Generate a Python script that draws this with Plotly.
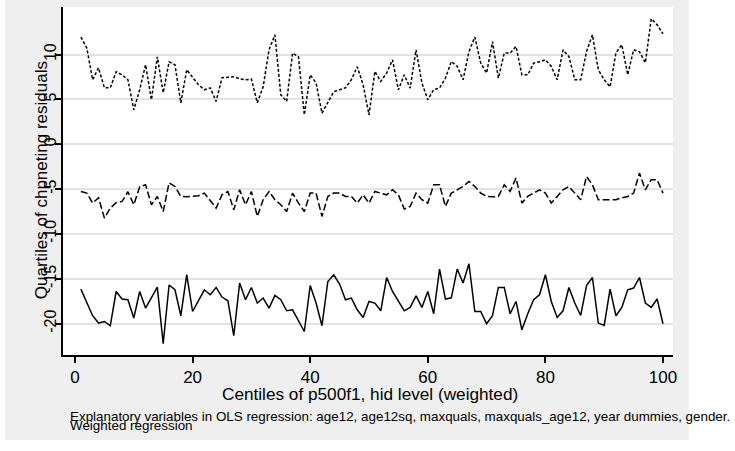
import plotly.graph_objects as go

centiles = list(range(1, 101))

top_quartile = [
    11.95, 10.75, 7.19, 8.52, 6.29, 6.29, 8.08, 7.74, 7.19, 3.84,
    6.07, 8.86, 4.96, 9.75, 5.74, 9.19, 8.86, 4.62, 8.30, 7.41,
    6.63, 6.07, 6.29, 4.77, 7.41, 7.46, 7.52, 7.30, 7.19, 7.26,
    4.62, 6.40, 10.53, 12.20, 5.51, 4.77, 10.16, 9.75, 3.28, 7.74,
    6.82, 3.47, 4.59, 5.85, 6.07, 6.29, 7.19, 8.63, 6.63, 3.28,
    8.11, 7.00, 7.93, 9.41, 6.07, 7.74, 6.26, 10.53, 6.82, 4.96,
    6.07, 6.26, 7.37, 9.23, 8.67, 7.19, 10.34, 11.95, 9.05, 7.93,
    11.45, 7.37, 10.16, 10.16, 10.90, 7.74, 7.74, 9.05, 9.19, 9.41,
    8.67, 7.19, 10.53, 9.78, 7.19, 7.19, 10.34, 12.20, 8.30, 7.19,
    6.40, 10.20, 11.09, 7.74, 10.53, 10.31, 9.08, 13.99, 13.32, 12.31,
]

median_quartile = [
    -5.27, -5.45, -6.56, -5.97, -8.23, -7.12, -6.53, -6.38, -5.30, -6.75,
    -4.74, -4.52, -6.75, -5.82, -7.50, -4.30, -4.71, -5.82, -5.86, -5.82,
    -5.75, -5.45, -6.30, -7.12, -5.64, -5.27, -7.31, -5.08, -6.75, -5.27,
    -8.05, -6.19, -5.27, -6.19, -6.75, -7.50, -5.45, -6.56, -7.50, -5.45,
    -5.45, -8.05, -5.82, -5.45, -5.45, -5.82, -5.82, -6.56, -5.64, -6.56,
    -5.27, -5.45, -5.64, -5.08, -5.64, -7.23, -6.94, -5.45, -6.19, -6.56,
    -4.52, -4.52, -6.94, -5.45, -5.08, -4.71, -4.15, -4.71, -5.45, -5.82,
    -5.86, -5.82, -4.52, -5.27, -3.77, -6.56, -5.82, -5.41, -5.08, -5.45,
    -6.56, -5.82, -5.08, -4.71, -5.45, -6.19, -3.60, -4.52, -6.19, -6.19,
    -6.19, -6.19, -5.97, -5.82, -5.45, -3.22, -5.08, -3.96, -3.96, -5.45,
]

bottom_quartile = [
    -16.15, -17.71, -19.12, -19.94, -19.76, -20.24, -16.42, -17.26, -17.34, -19.38,
    -16.42, -18.27, -17.10, -15.93, -22.25, -15.70, -16.23, -19.12, -14.55, -18.65,
    -17.43, -16.23, -16.78, -15.97, -17.04, -17.45, -21.35, -15.48, -17.34, -15.97,
    -17.71, -17.15, -18.27, -16.86, -17.34, -18.57, -18.46, -19.66, -20.88, -15.75,
    -17.71, -20.24, -15.30, -14.55, -15.59, -17.34, -17.15, -18.46, -19.32, -17.53,
    -17.71, -18.57, -14.86, -16.42, -17.53, -18.57, -18.20, -16.90, -18.20, -16.42,
    -18.90, -13.92, -17.26, -17.12, -13.92, -15.48, -13.33, -18.65, -18.65, -20.02,
    -19.12, -15.97, -15.97, -18.90, -17.53, -20.69, -18.90, -17.34, -16.78, -14.55,
    -17.53, -19.31, -18.57, -15.97, -17.71, -19.09, -15.75, -14.86, -19.94, -20.21,
    -16.15, -19.12, -18.20, -16.23, -16.04, -14.86, -17.71, -18.20, -17.26, -20.02,
]

x_ticks = [0, 20, 40, 60, 80, 100]
y_ticks = [-20, -15, -10, -5, 0, 5, 10]

FONT = "Liberation Sans, Arial, Helvetica, sans-serif"

fig = go.Figure()
fig.add_trace(go.Scatter(x=centiles, y=top_quartile, mode="lines",
                         line=dict(color="black", width=1.5, dash="3px,2px"),
                         showlegend=False))
fig.add_trace(go.Scatter(x=centiles, y=median_quartile, mode="lines",
                         line=dict(color="black", width=1.5, dash="7px,3px"),
                         showlegend=False))
fig.add_trace(go.Scatter(x=centiles, y=bottom_quartile, mode="lines",
                         line=dict(color="black", width=1.5),
                         showlegend=False))

fig.update_layout(
    width=735, height=451,
    margin=dict(l=63, r=62, t=7, b=96, autoexpand=False),
    paper_bgcolor="#efefef",
    plot_bgcolor="white",
    font=dict(family=FONT, size=17, color="black"),
    xaxis=dict(range=[-2.04, 101.7], tickvals=x_ticks,
               ticktext=[str(v) for v in x_ticks],
               ticks="outside", ticklen=6, tickwidth=1.5, tickcolor="black",
               showline=True, linewidth=2, linecolor="black",
               showgrid=False, zeroline=False, ticklabelstandoff=0,
               tickfont=dict(size=17)),
    yaxis=dict(range=[-23.5, 15.3], tickvals=y_ticks,
               ticktext=[str(v) for v in y_ticks],
               tickangle=-90,
               ticks="outside", ticklen=6, tickwidth=1.5, tickcolor="black",
               showline=True, linewidth=2, linecolor="black",
               showgrid=True, gridcolor="#e4e4e4", gridwidth=1.5,
               zeroline=False, ticklabelstandoff=-7,
               tickfont=dict(size=16)),
    shapes=[
        dict(type="rect", xref="paper", yref="paper", layer="below",
             x0=1.026, x1=1.2, y0=-0.3, y1=1.05,
             fillcolor="white", line=dict(width=0)),
        dict(type="rect", xref="paper", yref="paper", layer="below",
             x0=-0.2, x1=1.2, y0=-0.3, y1=-0.244,
             fillcolor="white", line=dict(width=0)),
        dict(type="rect", xref="paper", yref="paper", layer="below",
             x0=-0.2, x1=-0.095, y0=-0.3, y1=1.05,
             fillcolor="white", line=dict(width=0)),
    ],
    annotations=[
        dict(text="Centiles of p500f1, hid level (weighted)",
             xref="paper", yref="paper", x=0.503, y=-0.112,
             xanchor="center", yanchor="middle", showarrow=False,
             font=dict(size=17.2)),
        dict(text="Quartiles of chpneting residuals",
             xref="paper", yref="paper", x=-0.034, y=0.503,
             xanchor="center", yanchor="middle", showarrow=False,
             textangle=-90, font=dict(size=17)),
        dict(text="Explanatory variables in OLS regression: age12, age12sq, maxquals, maxquals_age12, year dummies, gender.",
             xref="paper", yref="paper", x=0.0082, y=-0.1753,
             xanchor="left", yanchor="middle", showarrow=False,
             font=dict(size=13.4)),
        dict(text="Weighted regression",
             xref="paper", yref="paper", x=0.0082, y=-0.204,
             xanchor="left", yanchor="middle", showarrow=False,
             font=dict(size=13.4)),
    ],
)

fig.write_html("out.html", config={"displayModeBar": False},
               post_script="document.body.style.margin='0px';")
